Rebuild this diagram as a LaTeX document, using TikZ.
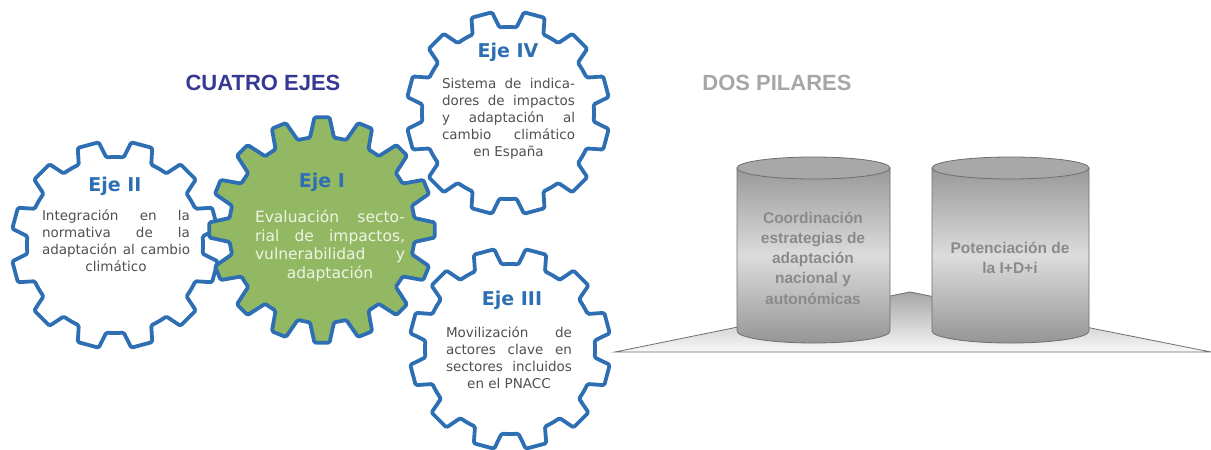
\documentclass[tikz,border=0pt]{standalone}
\usepackage{fontspec}
\setmainfont{DejaVu Sans}
\newfontfamily\arialf{Liberation Sans}
\definecolor{gearblue}{HTML}{2E6FB3}
\definecolor{geargreen}{HTML}{93B864}
\definecolor{ejetext}{HTML}{505050}
\definecolor{ejeitext}{HTML}{EEF4E3}
\definecolor{titleblue}{HTML}{373794}
\definecolor{titlegray}{HTML}{A6A6A6}
\definecolor{cyltext}{HTML}{8A8A8A}
\definecolor{cyledge}{HTML}{6E6E6E}
\definecolor{cyltop}{HTML}{999999}
\definecolor{cylmid}{HTML}{DCDCDC}
\definecolor{cylbot}{HTML}{959595}
\definecolor{cylface}{HTML}{A8A8A8}
\newcommand\gear[9]{%
 \begin{scope}[shift={(#2,#3)},rotate=#7]
 \pgfmathsetmacro\gst{360/#4}
 \draw[#1] ({-#9*\gst}:#6) \foreach \gi in {1,...,#4}{ -- ({(\gi-1)*\gst-#8*\gst}:#5) -- ({(\gi-1)*\gst+#8*\gst}:#5) -- ({(\gi-1)*\gst+#9*\gst}:#6) arc[start angle={(\gi-1)*\gst+#9*\gst}, delta angle={\gst-2*#9*\gst}, radius=#6] } -- cycle;
 \end{scope}}
\begin{document}
\begin{tikzpicture}[x=1pt,y=-1pt,
  whitegear/.style={draw=gearblue, line width=3.8pt, fill=white, line join=round, rounded corners=1.5pt},
  greengear/.style={draw=gearblue, line width=3.8pt, fill=geargreen, line join=round, rounded corners=1.5pt},
  ejehead/.style={font=\fontsize{19}{22}\selectfont\bfseries, text=gearblue, inner sep=0pt},
  ejebody/.style={font=\fontsize{13.5}{17}\selectfont, text=ejetext, align=center, inner sep=0pt},
  ejeibody/.style={font=\fontsize{15.5}{18.7}\selectfont, text=ejeitext, align=center, inner sep=0pt},
  title/.style={font=\arialf\fontsize{22}{26}\selectfont\bfseries, inner sep=0pt},
  cyltxt/.style={font=\arialf\fontsize{15.5}{20.3}\selectfont\bfseries, text=cyltext, align=center, inner sep=0pt},
  cylbody/.style={draw=cyledge, line width=0.8pt, top color=cyltop, bottom color=cylbot, middle color=cylmid},
  cylcap/.style={draw=cyledge, line width=0.8pt, fill=cylface}]
\useasboundingbox (0,0) rectangle (1211,450);

% titles
\node[title, text=titleblue] (t1) at (263,83) {CUATRO EJES};
\node[title, text=titlegray] (t2) at (777,83) {DOS PILARES};

% gears
\gear{whitegear}{115}{245}{12}{104}{88}{15}{0.2}{0.31}
\gear{whitegear}{508}{113}{12}{102}{86}{15}{0.2}{0.31}
\gear{whitegear}{510}{349}{12}{101}{85}{15}{0.2}{0.31}
\gear{greengear}{322}{230}{16}{113}{93}{0}{0.17}{0.33}

% Eje II
\node[ejehead] (h2) at (115,186) {Eje II};
\node[ejebody] (b2) at (116,241) {\makebox[148pt][s]{Integración en la}\\\makebox[148pt][s]{normativa de la}\\\makebox[148pt][s]{adaptación al cambio}\\climático};
% Eje I
\node[ejehead] (h1) at (322,182) {Eje I};
\node[ejeibody] (b1) at (330,246) {\makebox[150pt][s]{Evaluación secto-}\\\makebox[150pt][s]{rial de impactos,}\\\makebox[150pt][s]{vulnerabilidad y}\\adaptación};
% Eje IV
\node[ejehead] (h4) at (508,52) {Eje IV};
\node[ejebody] (b4) at (508.5,119) {\makebox[133pt][s]{Sistema de indica-}\\\makebox[133pt][s]{dores de impactos}\\\makebox[133pt][s]{y adaptación al}\\\makebox[133pt][s]{cambio climático}\\en España};
% Eje III
\node[ejehead] (h3) at (512,300) {Eje III};
\node[ejebody] (b3) at (509,358) {\makebox[126pt][s]{Movilización de}\\\makebox[126pt][s]{actores clave en}\\\makebox[126pt][s]{sectores incluidos}\\en el PNACC};

% plate
\draw[draw=cyledge, line width=0.8pt, top color=gray!70, bottom color=gray!5] (615,352) -- (910,292) -- (1211,352) -- cycle;

% left cylinder
\path[cylbody] (737,168) -- (737,331) arc[start angle=180, end angle=0, x radius=76.5, y radius=12] -- (890,168) -- cycle;
\draw[cylcap] (813.5,168) ellipse [x radius=76.5, y radius=11];
% right cylinder
\path[cylbody] (932,168) -- (932,331) arc[start angle=180, end angle=0, x radius=78.5, y radius=12] -- (1089,168) -- cycle;
\draw[cylcap] (1010.5,168) ellipse [x radius=78.5, y radius=11];

\node[cyltxt] (c1) at (813,258) {Coordinación\\estrategias de\\adaptación\\nacional y\\autonómicas};
\node[cyltxt] (c2) at (1010,258) {Potenciación de\\la I+D+i};
\end{tikzpicture}
\end{document}
